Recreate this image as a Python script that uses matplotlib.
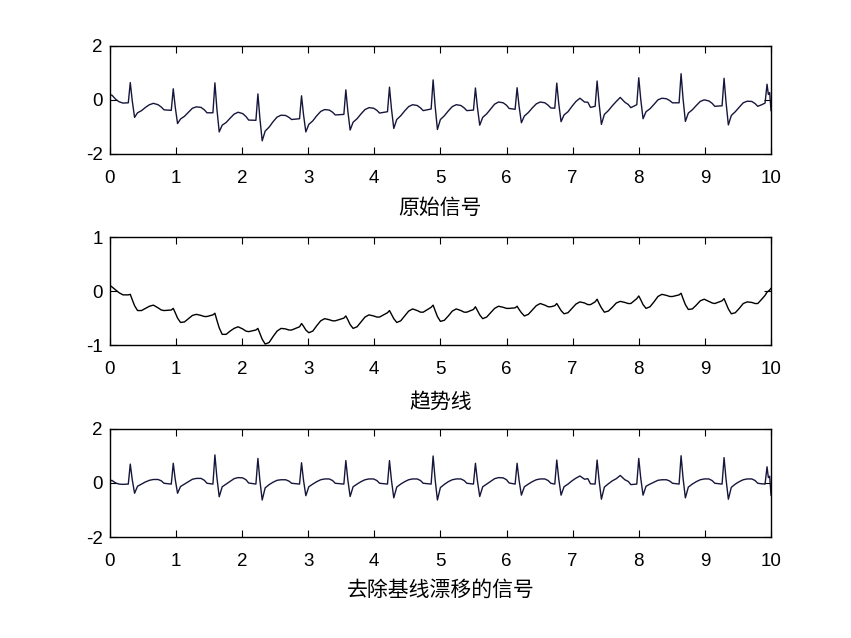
import numpy as np
import matplotlib
matplotlib.use("Agg")
import matplotlib.pyplot as plt

plt.rcParams['font.family'] = ['Liberation Sans', 'Noto Sans CJK SC', 'DejaVu Sans']
plt.rcParams['axes.unicode_minus'] = False

# time grid (s), one row per heartbeat
t_s = [
    0.00, 0.03, 0.06, 0.09, 0.14, 0.20,
    0.28, 0.31, 0.34, 0.375, 0.42, 0.48, 0.54, 0.60, 0.66, 0.73, 0.78, 0.82,
    0.93, 0.96, 0.99, 1.025, 1.07, 1.13, 1.19, 1.25, 1.31, 1.38, 1.43, 1.47,
    1.56, 1.59, 1.62, 1.655, 1.70, 1.76, 1.82, 1.88, 1.94, 2.01, 2.06, 2.10,
    2.21, 2.24, 2.27, 2.305, 2.35, 2.41, 2.47, 2.53, 2.59, 2.66, 2.71, 2.75,
    2.87, 2.90, 2.93, 2.965, 3.01, 3.07, 3.13, 3.19, 3.25, 3.32, 3.37, 3.41,
    3.54, 3.57, 3.60, 3.635, 3.68, 3.74, 3.80, 3.86, 3.92, 3.99, 4.04, 4.08,
    4.20, 4.23, 4.26, 4.295, 4.34, 4.40, 4.46, 4.52, 4.58, 4.65, 4.70, 4.74,
    4.86, 4.89, 4.92, 4.955, 5.00, 5.06, 5.12, 5.18, 5.24, 5.31, 5.36, 5.40,
    5.50, 5.53, 5.56, 5.595, 5.64, 5.70, 5.76, 5.82, 5.88, 5.95, 6.00, 6.04,
    6.13, 6.16, 6.19, 6.225, 6.27, 6.33, 6.39, 6.45, 6.51, 6.58, 6.63, 6.67,
    6.73, 6.76, 6.79, 6.825, 6.87, 6.93, 6.99, 7.05, 7.11, 7.18, 7.23, 7.27,
    7.34, 7.37, 7.40, 7.435, 7.48, 7.54, 7.60, 7.66, 7.72, 7.79, 7.84, 7.88,
    7.97, 8.00, 8.03, 8.065, 8.11, 8.17, 8.23, 8.29, 8.35, 8.42, 8.47, 8.51,
    8.61, 8.64, 8.67, 8.705, 8.75, 8.81, 8.87, 8.93, 8.99, 9.06, 9.11, 9.15,
    9.26, 9.29, 9.32, 9.355, 9.40, 9.46, 9.52, 9.58, 9.64, 9.71, 9.76, 9.80,
    9.86, 9.91, 9.94, 9.96, 9.98, 10.00,
]

# baseline-removed ECG (bottom panel)
detrended = [
    0.05, 0.10, 0.05, 0.00, -0.04, -0.05,
    -0.04, 0.70, 0.12, -0.38, -0.12, -0.04, 0.04, 0.10, 0.13, 0.13, 0.08, -0.01,
    -0.04, 0.73, 0.13, -0.38, -0.13, -0.04, 0.05, 0.14, 0.17, 0.17, 0.10, -0.01,
    -0.04, 1.04, 0.20, -0.51, -0.14, -0.04, 0.06, 0.16, 0.20, 0.19, 0.12, 0.00,
    -0.04, 0.91, 0.10, -0.63, -0.18, -0.06, 0.03, 0.10, 0.12, 0.12, 0.07, -0.01,
    -0.04, 0.75, 0.10, -0.47, -0.14, -0.04, 0.05, 0.12, 0.15, 0.15, 0.09, -0.01,
    -0.04, 0.83, 0.12, -0.50, -0.14, -0.04, 0.05, 0.12, 0.15, 0.15, 0.09, -0.01,
    -0.04, 0.83, 0.10, -0.55, -0.15, -0.04, 0.05, 0.12, 0.15, 0.15, 0.09, -0.01,
    -0.04, 1.00, 0.14, -0.63, -0.17, -0.05, 0.05, 0.12, 0.15, 0.15, 0.09, -0.01,
    -0.04, 0.73, 0.08, -0.50, -0.14, -0.04, 0.06, 0.16, 0.20, 0.19, 0.12, 0.00,
    -0.04, 0.73, 0.10, -0.45, -0.14, -0.04, 0.05, 0.12, 0.15, 0.15, 0.09, -0.01,
    -0.04, 0.85, 0.15, -0.45, -0.14, -0.04, 0.08, 0.18, 0.26, 0.14, 0.16, -0.03,
    -0.04, 0.85, 0.10, -0.60, -0.15, -0.03, 0.08, 0.16, 0.28, 0.12, 0.06, -0.06,
    -0.04, 0.91, 0.18, -0.45, -0.12, -0.04, 0.03, 0.10, 0.12, 0.12, 0.07, -0.01,
    -0.04, 1.01, 0.18, -0.55, -0.15, -0.04, 0.05, 0.12, 0.15, 0.15, 0.09, -0.01,
    -0.04, 0.94, 0.14, -0.60, -0.16, -0.04, 0.05, 0.12, 0.15, 0.15, 0.09, -0.01,
    -0.03, -0.04, 0.60, 0.20, 0.25, -0.45,
]

# baseline drift (middle panel)
trend = [
    0.11, 0.08, 0.05, 0.02, -0.03, -0.07,
    -0.07, -0.06, -0.16, -0.27, -0.36, -0.36, -0.32, -0.28, -0.26, -0.31, -0.35, -0.36,
    -0.35, -0.32, -0.40, -0.50, -0.58, -0.57, -0.51, -0.45, -0.43, -0.45, -0.47, -0.47,
    -0.44, -0.41, -0.54, -0.68, -0.80, -0.80, -0.74, -0.69, -0.66, -0.70, -0.74, -0.75,
    -0.72, -0.69, -0.78, -0.89, -0.98, -0.95, -0.84, -0.74, -0.69, -0.70, -0.72, -0.72,
    -0.66, -0.60, -0.65, -0.72, -0.77, -0.74, -0.64, -0.55, -0.51, -0.53, -0.55, -0.55,
    -0.50, -0.46, -0.53, -0.62, -0.69, -0.66, -0.57, -0.48, -0.44, -0.46, -0.48, -0.48,
    -0.40, -0.36, -0.43, -0.51, -0.58, -0.55, -0.46, -0.37, -0.33, -0.36, -0.39, -0.39,
    -0.30, -0.26, -0.36, -0.47, -0.56, -0.54, -0.46, -0.37, -0.33, -0.36, -0.39, -0.39,
    -0.34, -0.29, -0.36, -0.44, -0.51, -0.48, -0.40, -0.32, -0.28, -0.30, -0.32, -0.32,
    -0.31, -0.28, -0.34, -0.40, -0.46, -0.43, -0.35, -0.27, -0.23, -0.26, -0.29, -0.29,
    -0.27, -0.23, -0.29, -0.36, -0.42, -0.40, -0.32, -0.24, -0.20, -0.22, -0.25, -0.25,
    -0.20, -0.15, -0.23, -0.31, -0.39, -0.37, -0.30, -0.22, -0.19, -0.21, -0.23, -0.23,
    -0.14, -0.09, -0.16, -0.25, -0.32, -0.29, -0.20, -0.10, -0.06, -0.08, -0.10, -0.10,
    -0.07, -0.04, -0.14, -0.25, -0.34, -0.33, -0.26, -0.18, -0.15, -0.19, -0.22, -0.23,
    -0.18, -0.14, -0.23, -0.33, -0.42, -0.40, -0.32, -0.23, -0.20, -0.21, -0.23, -0.23,
    -0.15, -0.08, -0.02, 0.00, 0.02, 0.05,
]

x_ticks = [0, 1, 2, 3, 4, 5, 6, 7, 8, 9, 10]
titles = ['原始信号', '趋势线', '去除基线漂移的信号']
y_limits = [(-2, 2), (-1, 1), (-2, 2)]
y_ticks = [[-2, 0, 2], [-1, 0, 1], [-2, 0, 2]]
label_pads = [7, 9, 6.5]

t_arr = np.array(t_s)
det_arr = np.array(detrended)
tr_arr = np.array(trend)
original = det_arr + tr_arr
series = [original, tr_arr, det_arr]
colors = ['#16163c', 'black', '#16163c']

fig = plt.figure(figsize=(8.51, 6.38), dpi=100)
positions = [
    [0.129, 0.759, 0.777, 0.169],
    [0.129, 0.459, 0.777, 0.1695],
    [0.129, 0.1583, 0.777, 0.1693],
]

for pos, y, lim, yt, lab, col, lp in zip(positions, series, y_limits, y_ticks,
                                         titles, colors, label_pads):
    ax = fig.add_axes(pos)
    ax.plot(t_arr, y, color=col, lw=1.0)
    ax.set_xlim(0, 10)
    ax.set_ylim(*lim)
    ax.set_xticks(x_ticks)
    ax.set_yticks(yt)
    ax.tick_params(direction='in', top=True, right=True, length=5, width=0.8,
                   labelsize=13.5, pad=11.5)
    ax.tick_params(axis='y', pad=5)
    for s in ax.spines.values():
        s.set_linewidth(1.0)
    ax.set_xlabel(lab, fontsize=15, labelpad=lp, family=['Noto Sans CJK SC'])

fig.savefig('out.png', dpi=100)
